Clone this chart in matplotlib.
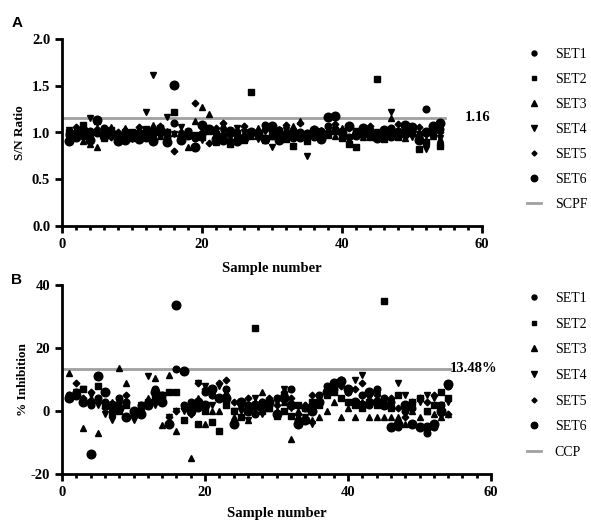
import matplotlib
matplotlib.use("Agg")
import matplotlib.pyplot as plt
import numpy as np
from matplotlib.ticker import MultipleLocator

samples = list(range(1, 55))
set_names = ["SET1", "SET2", "SET3", "SET4", "SET5", "SET6"]

# Panel A: S/N ratio
a_set1 = [0.97,1.00,0.96,1.02,0.99,1.05,1.00,0.93,0.95,0.98,1.01,0.97,1.03,0.99,0.95,1.10,0.96,1.02,0.94,0.98,1.03,0.99,0.95,1.01,0.97,0.93,1.00,0.98,1.08,0.96,1.03,0.99,0.94,1.00,0.97,0.95,1.02,1.07,1.04,0.99,0.95,1.01,0.97,1.03,0.98,0.96,1.05,1.00,0.97,1.03,0.95,1.25,1.00,1.04]
a_set2 = [1.01,0.97,1.08,0.99,1.12,0.94,1.03,0.96,0.98,1.00,0.95,1.04,0.98,1.05,1.00,1.22,0.93,1.00,0.97,0.95,1.02,0.90,0.96,0.88,0.99,0.92,1.43,0.96,0.94,1.00,0.98,0.93,0.86,0.96,0.91,0.99,1.01,0.97,1.02,0.94,0.88,0.85,0.98,0.95,1.57,0.93,0.97,0.95,1.02,0.99,0.82,0.90,0.98,0.86]
a_set3 = [0.95,1.03,0.91,0.88,0.84,1.00,1.06,0.98,1.05,0.94,0.97,1.01,1.08,0.96,1.02,0.99,0.93,0.85,1.12,1.27,1.20,0.97,1.08,0.94,1.02,0.99,0.96,1.05,0.92,1.00,1.04,0.97,1.07,1.12,0.94,0.98,1.03,1.00,0.96,1.05,0.92,0.99,0.95,1.01,0.97,1.03,1.16,0.98,0.94,1.05,1.00,0.92,0.96,0.93]
a_set4 = [1.03,0.98,0.94,1.16,1.10,0.97,1.02,0.95,1.00,0.93,0.99,1.22,1.61,1.03,1.17,0.98,1.06,1.01,0.96,0.92,1.03,0.98,1.00,0.95,1.05,1.01,0.97,0.93,1.02,0.84,0.99,1.03,0.95,0.98,0.75,1.01,0.96,1.04,1.00,0.97,0.94,1.02,0.98,0.95,1.00,1.03,1.22,0.97,1.01,0.95,0.98,0.82,1.03,0.94]
a_set5 = [0.99,1.06,1.01,0.97,1.04,1.02,0.95,1.00,1.03,0.97,1.06,0.99,1.02,1.07,0.96,0.80,1.01,0.98,1.32,1.00,0.89,1.05,1.10,0.97,1.02,1.07,0.98,1.00,1.03,1.06,0.97,1.08,1.01,1.10,0.99,1.04,0.97,1.02,1.09,1.00,1.05,0.98,1.03,1.07,0.97,1.01,1.04,1.09,0.96,1.02,1.06,0.98,1.03,1.00]
a_set6 = [0.91,0.95,1.03,0.92,1.13,0.96,0.99,0.91,0.92,0.97,0.93,0.95,0.91,1.03,0.90,1.51,0.92,0.97,0.85,1.08,1.04,0.93,0.92,1.02,0.91,0.94,1.00,0.99,0.93,1.07,0.92,0.96,1.00,0.95,0.98,1.03,0.93,1.17,1.18,1.00,1.07,0.97,1.05,0.99,0.94,1.03,0.96,1.00,1.08,1.06,0.92,1.00,1.07,1.10]
scpf = 1.16

# Panel B: % inhibition
b_set1 = [5,6,3,2,4,3,1,4,3,0,2,3,7,5,-4,13.3,2,3,1,6,5,4,7,-4,3,2,-1,3,2,4,5,7,-3,1,2,5,8,7,10,6,3,5,2,7,4,3,-5,0,1,-5,-7,-5,2,8]
b_set2 = [4,5,7,3,8,2,-1,0,2,-1,1,3,4,5,6,6,-3,1,-4,0,-3.5,-6.5,2,0,-2,1,26.3,0,1,-1.5,0,-1.5,2,1,3,2,5,6,4,3,2,1,3,2,35,1,5,2,3,4,0,2,6,4]
b_set3 = [12,6,-5.5,4,-7,2,3,13.5,9,-1,1,4,10.5,-4.5,11.5,-6.5,2,-15,4,-4,0,0,6,-2,2,-3,3,6,1,0,3,-9,0,2,-3,-2,0,3,-2,1,-2,3,-2,-2,-2,-2,-2,-4,0,-2,0,-1,-2,-1]
b_set4 = [4,6,7,5,2,-1,-3,1,-2,-3,2,11,2,4,-2,0,0,0,9,8,2,8,6,0,0,-3,4,-1,2,3,7,1,-2,-2,-4,3,5,8,9,6,10,11.5,4,5,2,3,9,5,1,3,5,4,2,3]
b_set5 = [5,9,4,6,3,1,2,3,5,0,1,2,3,4,-2,0,1,-1,9,7,5,9,10,3,2,4,1,3,4,2,6,4,-1,2,5,3,7,9,8,6,7,9,3,5,2,4,1,-2,3,4,3,5,-1,-1]
b_set6 = [4,5,3,-13.5,11,6,2,1,-2,0,-1,2,6,3,-4,33.5,12.7,0,3,2,7,4,4,-4,3,0,2,1,3,-1,4,2,-4,-3,0,3,6,9,9.5,7,3,2,6,3,2,-5,-4,2,-4,-5,-5,-4,0,8.6]
ccp = 13.48

markers = ["o", "s", "^", "v", "D", "o"]
sizes = [4.8, 4.6, 5.0, 5.0, 3.4, 6.2]

serif = ["Liberation Serif", "DejaVu Serif"]
plt.rcParams["font.family"] = serif
plt.rcParams["axes.unicode_minus"] = False

fig = plt.figure(figsize=(5.91, 5.23), dpi=100)
axA = fig.add_axes([62/591, 1-226/523, 420/591, 187/523])
axB = fig.add_axes([62/591, 1-474/523, 429/591, 189/523])

def style(ax):
    for s in ["top", "right"]:
        ax.spines[s].set_visible(False)
    for s in ["left", "bottom"]:
        ax.spines[s].set_linewidth(2.0)
    ax.tick_params(which="major", direction="out", length=5, width=2.0, labelsize=10.5)
    ax.tick_params(which="minor", direction="out", length=3, width=2.0)
    ax.tick_params(axis="y", which="minor", left=False)
    ax.xaxis.set_major_locator(MultipleLocator(20))
    ax.xaxis.set_minor_locator(MultipleLocator(2))
    for lab in ax.get_xticklabels() + ax.get_yticklabels():
        lab.set_fontweight("bold")
    ax.set_xlim(0, 60)

setsA = [a_set1, a_set2, a_set3, a_set4, a_set5, a_set6]
setsB = [b_set1, b_set2, b_set3, b_set4, b_set5, b_set6]

handlesA = []
for vals, m, ms, name in zip(setsA, markers, sizes, set_names):
    h, = axA.plot(samples, vals, linestyle="none", marker=m, ms=ms, color="black", label=name, clip_on=False)
    handlesA.append(h)
hl, = axA.plot([0, 54.7], [scpf, scpf], color="#a0a0a0", lw=2.0, label="SCPF", zorder=0)
handlesA.append(hl)
axA.set_ylim(0, 2.0)
axA.yaxis.set_major_locator(MultipleLocator(0.5))
axA.yaxis.set_major_formatter(matplotlib.ticker.FormatStrFormatter("%.1f"))
style(axA)
axA.text(57.6, scpf, "1.16", fontsize=10.5, fontweight="bold", va="center", ha="left")
axA.set_xlabel("Sample number", fontsize=10.5, fontweight="bold", labelpad=8)
axA.set_ylabel("S/N Ratio", fontsize=9.5, fontweight="bold", labelpad=4)

handlesB = []
for vals, m, ms, name in zip(setsB, markers, sizes, set_names):
    h, = axB.plot(samples, vals, linestyle="none", marker=m, ms=ms, color="black", label=name, clip_on=False)
    handlesB.append(h)
hl2, = axB.plot([0, 54.3], [ccp, ccp], color="#a0a0a0", lw=2.0, label="CCP", zorder=0)
handlesB.append(hl2)
axB.set_ylim(-20, 40)
axB.yaxis.set_major_locator(MultipleLocator(20))
style(axB)
axB.text(54.3, ccp, "13.48%", fontsize=10.5, fontweight="bold", va="center", ha="left")
axB.set_xlabel("Sample number", fontsize=10.5, fontweight="bold", labelpad=6)
axB.set_ylabel("% Inhibition", fontsize=9.5, fontweight="bold", labelpad=1)

leg_kw = dict(loc="upper left", frameon=False, fontsize=10, handlelength=1.0,
              handletextpad=1.0, borderaxespad=0, borderpad=0)
legA = fig.legend(handles=handlesA, bbox_to_anchor=(527/591, 1-48/523), labelspacing=0.86, **leg_kw)
legB = fig.legend(handles=handlesB, bbox_to_anchor=(527/591, 1-292/523), labelspacing=0.91, **leg_kw)
for leg in (legA, legB):
    for h in leg.legend_handles:
        if h.get_marker() not in (None, "None", ""):
            h.set_markersize(h.get_markersize() * 0.75)

fig.text(12/591, 1-23/523, "A", fontsize=11, fontweight="bold", family="Liberation Sans", va="center", ha="left")
fig.text(11/591, 1-280/523, "B", fontsize=11, fontweight="bold", family="Liberation Sans", va="center", ha="left")

fig.savefig("out.png", dpi=100)
